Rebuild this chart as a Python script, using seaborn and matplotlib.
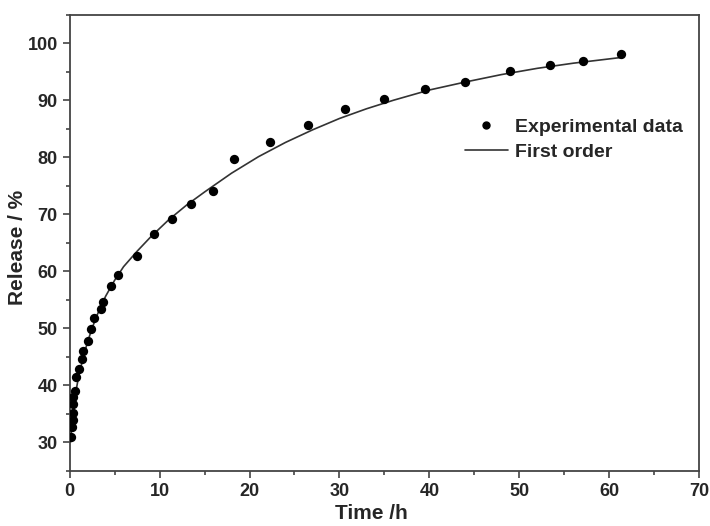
import numpy as np
import pandas as pd
import seaborn as sns
import matplotlib.pyplot as plt
from matplotlib.ticker import MultipleLocator
from matplotlib.lines import Line2D

# experimental points
time_h = [0.17, 0.31, 0.36, 0.36, 0.42, 0.36, 0.61, 0.72, 1.1, 1.4, 1.5, 2.0,
          2.4, 2.7, 3.5, 3.7, 4.6, 5.4, 7.5, 9.4, 11.4, 13.5, 15.9, 18.3,
          22.3, 26.5, 30.6, 34.9, 39.5, 43.9, 49.0, 53.4, 57.1, 61.3]
release = [31.0, 32.7, 33.9, 35.1, 36.8, 38.0, 39.0, 41.4, 42.8, 44.6, 46.0, 47.8,
           49.9, 51.8, 53.3, 54.6, 57.4, 59.3, 62.6, 66.6, 69.2, 71.8, 74.1, 79.7,
           82.7, 85.7, 88.4, 90.2, 91.9, 93.2, 95.1, 96.1, 96.8, 98.1]

# first order fit curve
fit_t = [0.1, 0.2, 0.35, 0.6, 1.0, 1.5, 2.0, 2.5, 3.0, 4.0, 5.0, 6.0, 7.5, 9.0,
         11.0, 13.0, 15.0, 18.0, 21.0, 24.0, 27.0, 30.0, 33.0, 36.0, 40.0,
         44.0, 48.0, 52.0, 56.0, 61.3]
fit_r = [30.0, 32.0, 34.5, 38.0, 41.5, 44.8, 47.6, 50.0, 52.1, 55.6, 58.4, 60.8,
         63.5, 66.0, 69.0, 71.6, 73.9, 77.2, 80.1, 82.6, 84.8, 86.8, 88.5, 90.0,
         91.8, 93.2, 94.5, 95.6, 96.5, 97.5]

sns.set_theme(style='ticks')
plt.rcParams['font.family'] = ['Liberation Sans', 'DejaVu Sans']
plt.rcParams['font.weight'] = 'bold'

exp = pd.DataFrame({'t': time_h, 'r': release})
fit = pd.DataFrame({'t': fit_t, 'r': fit_r})

fig, ax = plt.subplots(figsize=(7.1, 5.26), dpi=100)
fig.subplots_adjust(left=0.098, right=0.985, top=0.972, bottom=0.105)

sns.lineplot(data=fit, x='t', y='r', ax=ax, color='#333333', linewidth=1.2,
             sort=True, zorder=2)
sns.scatterplot(data=exp, x='t', y='r', ax=ax, color='black', s=45,
                edgecolor='black', linewidth=0, zorder=3)

ax.set_xlim(0, 70)
ax.set_ylim(25, 105)
ax.xaxis.set_major_locator(MultipleLocator(10))
ax.xaxis.set_minor_locator(MultipleLocator(5))
ax.yaxis.set_major_locator(MultipleLocator(10))
ax.yaxis.set_minor_locator(MultipleLocator(5))
ax.set_yticks(range(30, 101, 10))
ax.tick_params(which='major', direction='out', length=5, width=1.2, labelsize=13,
               color='#444444')
ax.tick_params(which='minor', direction='out', length=3, width=1.2, color='#444444')
for lab in ax.get_xticklabels() + ax.get_yticklabels():
    lab.set_fontweight('bold')
for sp in ax.spines.values():
    sp.set_linewidth(1.3)
    sp.set_color('#444444')

ax.set_xlabel('Time /h', fontsize=15, fontweight='bold')
ax.set_ylabel('Release / %', fontsize=15, fontweight='bold')
ax.xaxis.set_label_coords(0.48, -0.073)
ax.yaxis.set_label_coords(-0.068, 0.49)

handles = [Line2D([], [], marker='o', color='black', linestyle='none', markersize=5),
           Line2D([], [], color='#333333', linewidth=1.2)]
ax.legend(handles, ['Experimental data', 'First order'], loc='center left',
          bbox_to_anchor=(0.6, 0.726), frameon=False,
          prop={'size': 14, 'weight': 'bold'}, handlelength=2.2,
          handletextpad=0.4, labelspacing=0.35)

fig.savefig('out.png', dpi=100)
